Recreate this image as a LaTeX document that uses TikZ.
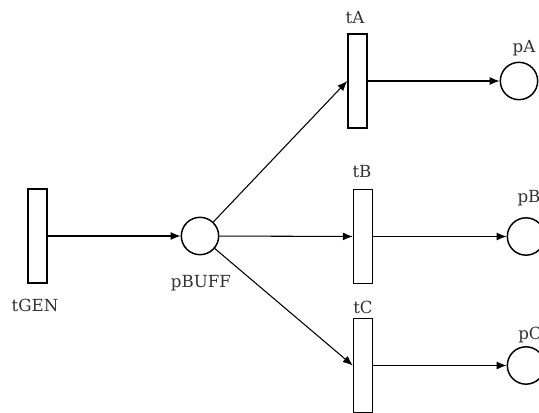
\documentclass[tikz,border=0pt]{standalone}
\usepackage{fontspec}
\setmainfont{DejaVu Serif}
\usetikzlibrary{arrows.meta}
\begin{document}
\begin{tikzpicture}[
  x=0.75pt, y=-0.75pt,
  trans/.style={rectangle, draw, line width=1.1pt, minimum width=14.25pt, minimum height=70.5pt, inner sep=0pt},
  place/.style={circle, draw, line width=1.1pt, minimum size=28pt, inner sep=0pt},
  lbl/.style={font=\fontsize{12.5}{14}\selectfont, text=black!80, inner sep=0pt},
  arc/.style={draw, line width=0.8pt, -{Latex[length=7.5pt,width=6pt]}}
]
\clip (0,0) rectangle (539,413);

% transitions
\node[trans] (tGEN) at (37.5,236) {};
\node[trans] (tA) at (357.5,81) {};
\node[trans] (tB) at (363,236.5) {};
\node[trans] (tC) at (363,365.5) {};

% places
\node[place] (pBUFF) at (200,236) {};
\node[place] (pA) at (519,81) {};
\node[place] (pB) at (526,236.5) {};
\node[place] (pC) at (526,365.5) {};

% names
\node[lbl] (lGEN) at (35,305) {tGEN};
\node[lbl] (lBUFF) at (201,283) {pBUFF};
\node[lbl] (lA) at (355,18) {tA};
\node[lbl] (lB) at (362,172) {tB};
\node[lbl] (lC) at (363,307) {tC};
\node[lbl] (lpA) at (524,48) {pA};
\node[lbl] (lpB) at (529,198) {pB};
\node[lbl] (lpC) at (530,335) {pC};

% arcs
\draw[arc] (tGEN.east) -- (pBUFF);
\draw[arc] (pBUFF) -- (tA.west);
\draw[arc] (pBUFF) -- (tB);
\draw[arc] (pBUFF) -- (tC.west);
\draw[arc] (tA) -- (pA);
\draw[arc] (tB) -- (pB);
\draw[arc] (tC) -- (pC);
\end{tikzpicture}
\end{document}
